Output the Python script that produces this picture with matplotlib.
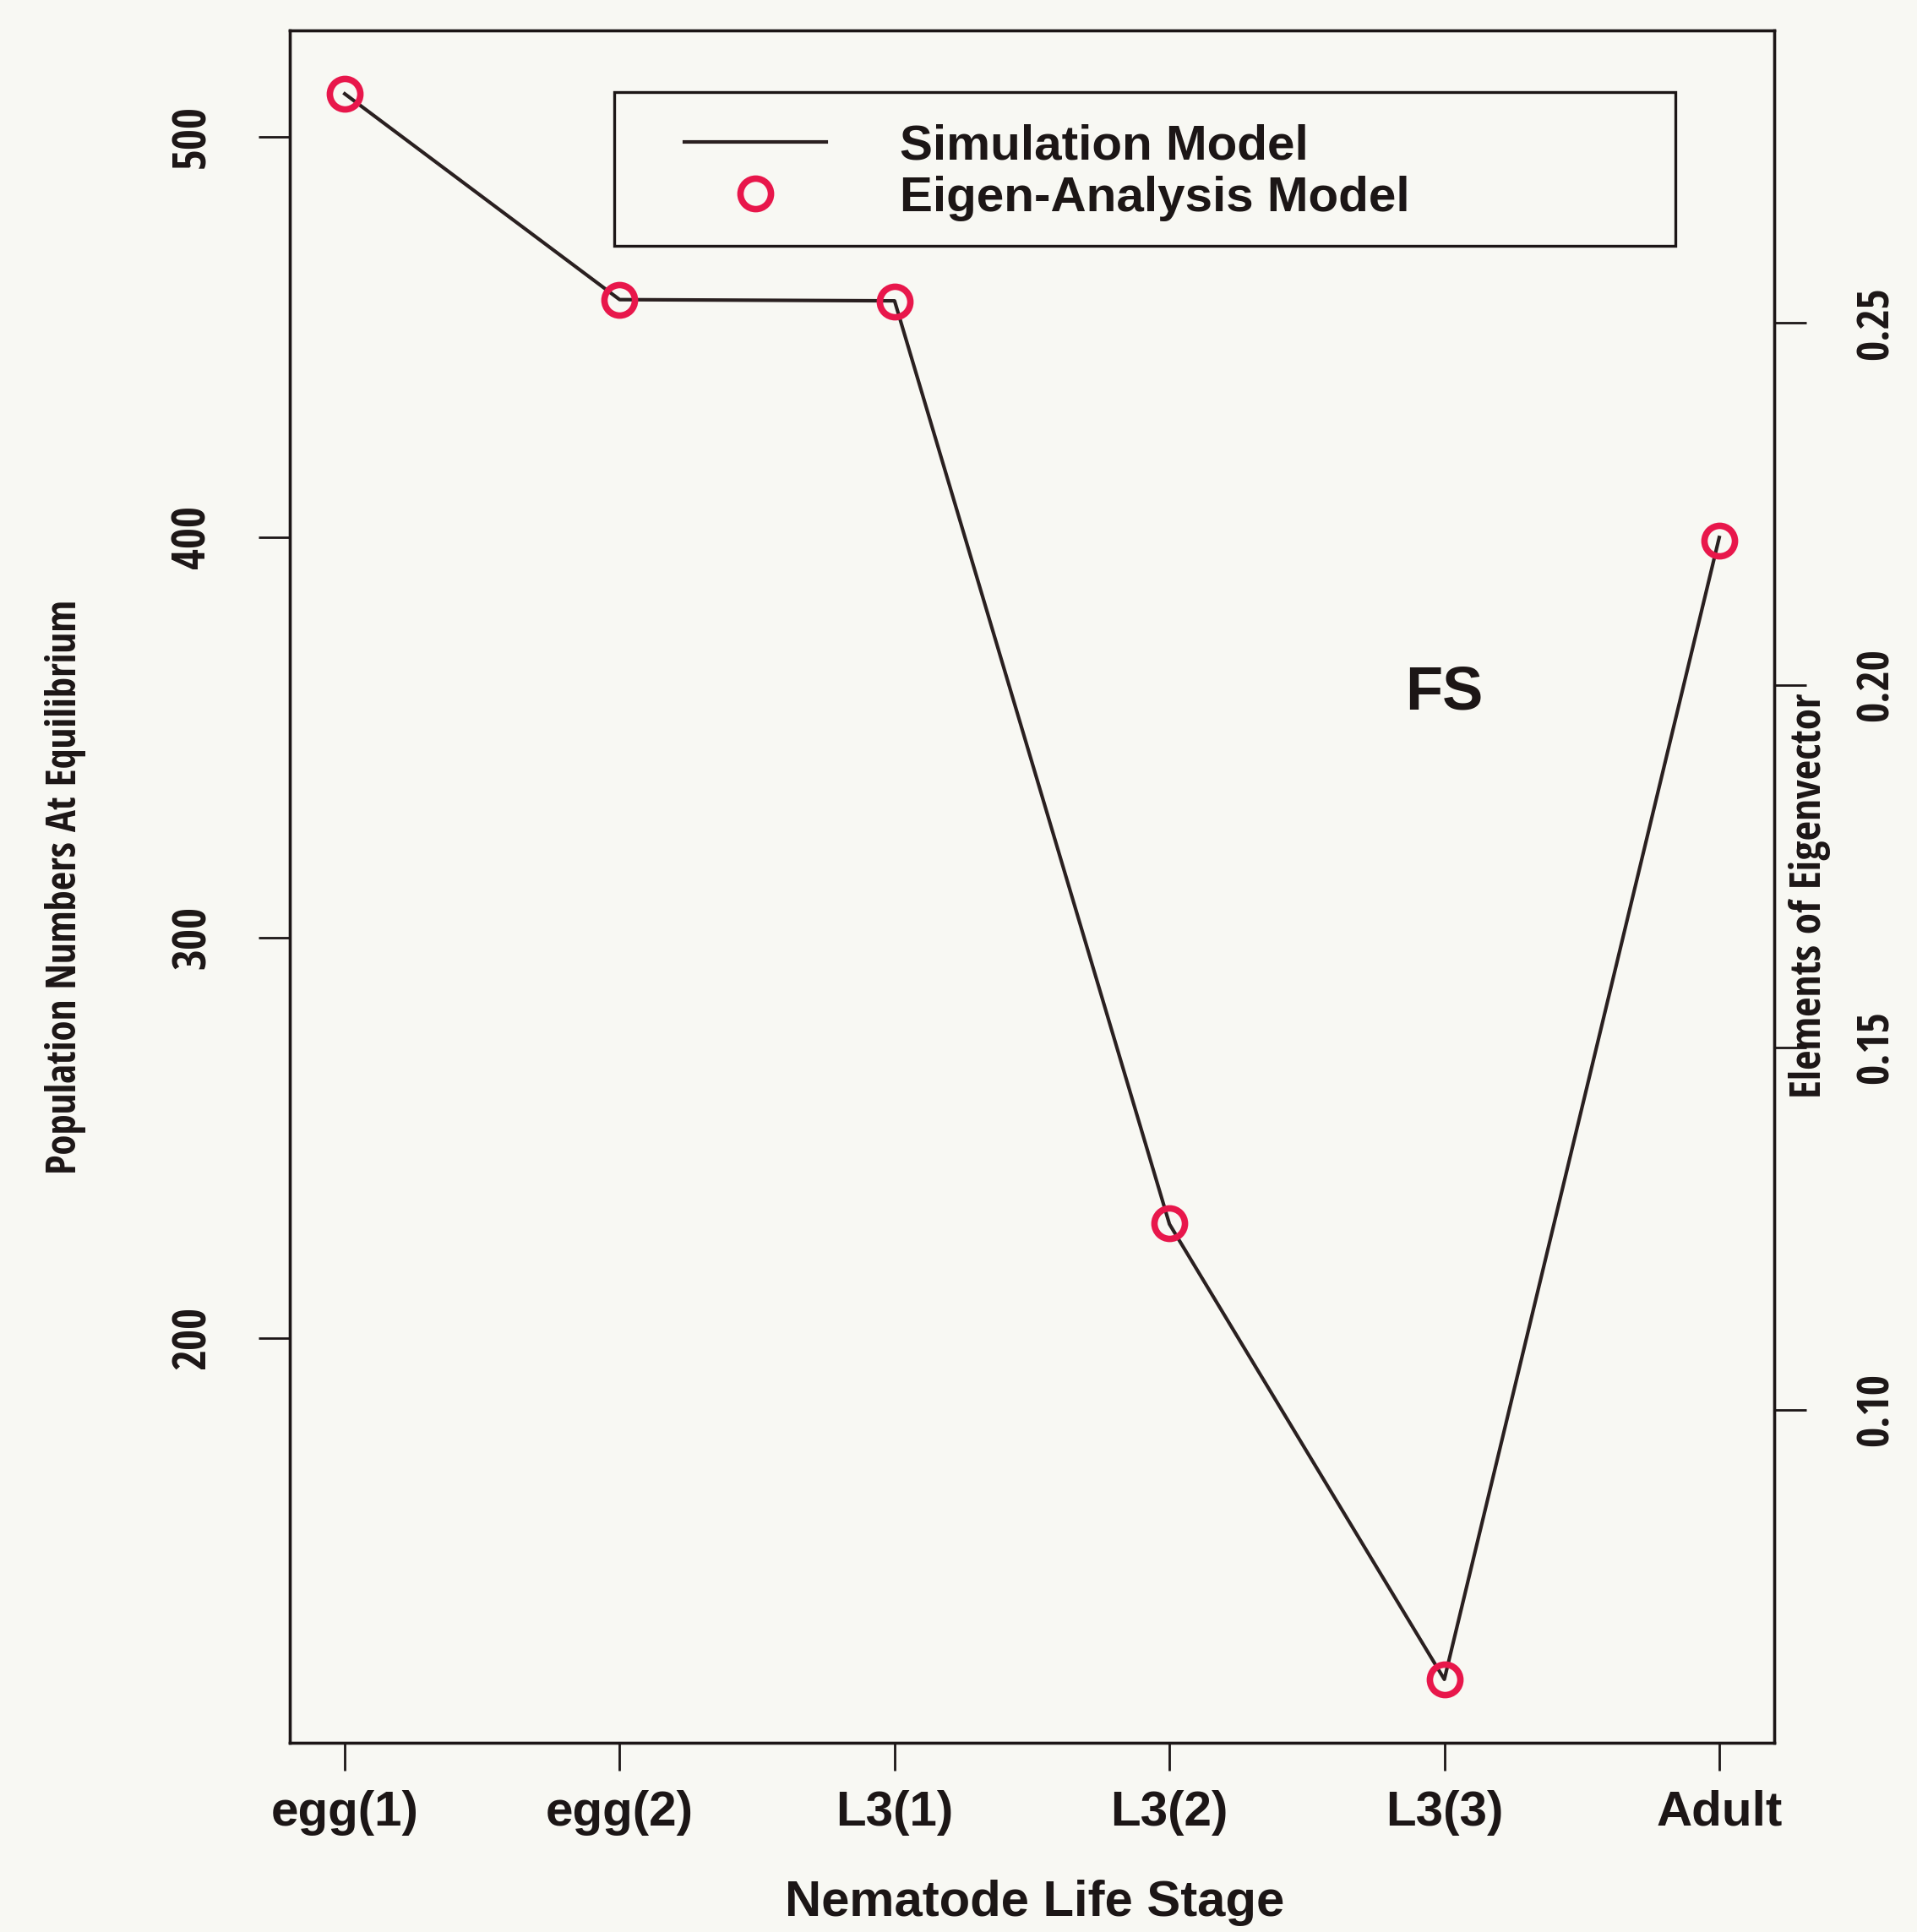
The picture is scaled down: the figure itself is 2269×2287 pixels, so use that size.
import numpy as np
import matplotlib
matplotlib.use("Agg")
from matplotlib import pyplot as plt
from matplotlib import font_manager
from matplotlib.patches import Rectangle

# values
stages = ["egg(1)", "egg(2)", "L3(1)", "L3(2)", "L3(3)", "Adult"]
simulation = [510.7, 459.3, 459.0, 228.4, 114.7, 399.9]
eigen = [0.2816, 0.2532, 0.2529, 0.1257, 0.0628, 0.2199]
left_ticks = [200, 300, 400, 500]
right_ticks = [0.10, 0.15, 0.20, 0.25]
right_labels = ["0.10", "0.15", "0.20", "0.25"]

W, H = 2269, 2287
bg = "#f8f8f3"
ink = "#1c1616"
red = "#e8174b"
wide = ["Liberation Sans", "DejaVu Sans"]

# the original uses a narrow bold face on the y axes; take the narrowest one present
fonts = font_manager.fontManager.ttflist
names = {f.name for f in fonts}
narrow_family, narrow_stretch = "Liberation Sans", "normal"
for cand in ["Liberation Sans Narrow", "Noto Sans ExtraCondensed", "Noto Sans Condensed",
             "Open Sans Condensed", "DejaVu Sans Condensed"]:
    if cand in names:
        narrow_family = cand
        break
else:
    if any(f.name == "DejaVu Sans" and f.stretch == "condensed" for f in fonts):
        narrow_family, narrow_stretch = "DejaVu Sans", "condensed"
narrow = dict(fontfamily=narrow_family, fontstretch=narrow_stretch, fontweight="bold")


def r_lim(v):
    lo, hi = min(v), max(v)
    pad = 0.04 * (hi - lo)
    return lo - pad, hi + pad


fig = plt.figure(figsize=(W / 100, H / 100), dpi=100, facecolor=bg)
ax = fig.add_axes([343 / W, 1 - 2063 / H, (2100 - 343) / W, (2063 - 36) / H])
ax.set_facecolor(bg)
x = np.arange(1, len(stages) + 1)

line, = ax.plot(x, simulation, color="#2a2020", lw=3, label="Simulation Model")
ax.set_xlim(r_lim(x))
ax.set_ylim(r_lim(simulation))

ax2 = ax.twinx()
pts, = ax2.plot(x, eigen, ls="none", marker="o", ms=26, mfc="none", mec=red,
                mew=5.5, label="Eigen-Analysis Model")
ax2.set_ylim(r_lim(eigen))

for a in (ax, ax2):
    for s in a.spines.values():
        s.set_linewidth(2.4)
        s.set_color(ink)

ax.set_xticks(x)
ax.set_xticklabels(stages, fontfamily=wide, fontweight="bold", fontsize=42, color=ink)
ax.tick_params(axis="x", direction="out", length=24, width=2, color=ink, pad=16)
ax.set_yticks(left_ticks)
ax.set_yticklabels([str(t) for t in left_ticks], rotation=90, va="center",
                   fontsize=32, color=ink, **narrow)
ax.tick_params(axis="y", direction="out", length=27, width=2, color=ink, pad=36)

ax2.set_yticks(right_ticks)
ax2.set_yticklabels(right_labels, rotation=90, va="center",
                    fontsize=32, color=ink, **narrow)
ax2.tick_params(axis="y", direction="out", length=27, width=2, color=ink, pad=41)

ylab_l = fig.text(78 / W, 1 - 1050 / H, "Population Numbers At Equilibrium",
                  rotation=90, ha="center", va="center", fontsize=34, color=ink, **narrow)
ylab_r = fig.text(2142 / W, 1 - 1060 / H, "Elements of Eigenvector", rotation=90,
                  ha="center", va="center", fontsize=30, color=ink, **narrow)
fig.text(1225 / W, 1 - 2253 / H, "Nematode Life Stage", ha="center", va="center",
         fontfamily=wide, fontweight="bold", fontsize=43, color=ink)
ax.text(5.0, 361, "FS", ha="center", va="center", fontfamily=wide,
        fontweight="bold", fontsize=52, color=ink)

# scale the narrow-face texts so their lengths match the original
fig.canvas.draw()
rend = fig.canvas.get_renderer()


def fit(texts, target_px):
    length = texts[0].get_window_extent(rend).height
    k = target_px / length
    for t in texts:
        t.set_fontsize(t.get_fontsize() * k)


fit([ylab_l], 680)
fit([ylab_r], 478)
fit(ax.get_yticklabels()[::-1], 75)
fit(ax2.get_yticklabels()[::-1], 87)

# legend box as drawn by R: a fixed rectangle with the keys inside
ax2.add_patch(Rectangle((0.2183, 0.874), 0.7153, 0.090, transform=ax2.transAxes,
                        facecolor=bg, edgecolor=ink, lw=2.4, zorder=4))
leg = ax2.legend(handles=[line, pts], loc="center left",
                 bbox_to_anchor=(0.2656, 0.917), borderaxespad=0, borderpad=0,
                 frameon=False, handlelength=2.88, handletextpad=1.5,
                 labelspacing=0.12,
                 prop={"family": wide, "weight": "bold", "size": 42})
leg.set_zorder(5)
for t in leg.get_texts():
    t.set_color(ink)

fig.savefig("out.png", dpi=100, facecolor=bg)
